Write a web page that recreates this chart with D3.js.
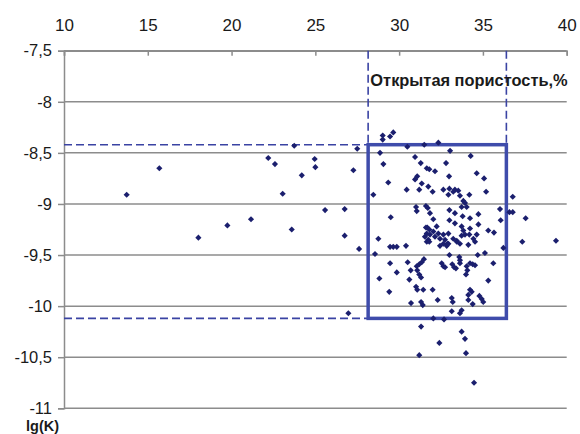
<!DOCTYPE html>
<html>
<head>
<meta charset="utf-8">
<script src="https://cdn.jsdelivr.net/npm/d3@7"></script>
<style>
  html, body { margin: 0; padding: 0; background: #fff; }
  svg text { font-family: "Liberation Sans", Arial, sans-serif; fill: #1a1a1a; }
</style>
</head>
<body>
<svg id="chart" width="580" height="434"></svg>
<script>
// Open porosity, % (x) against lg(K) (y)
const porosity = [
  13.74, 15.69, 18.02, 19.75, 21.16, 22.19, 22.59, 23.05, 23.59, 23.74,
  24.19, 24.96, 25.00, 25.58, 26.75, 26.75, 27.27, 27.50, 27.61, 26.97,
  29.02, 29.46, 29.65, 29.02, 28.86, 29.06, 29.35, 28.46, 29.50, 28.56,
  28.76, 29.46, 29.65, 29.86, 30.41, 29.46, 29.86, 28.82, 29.41, 30.51,
  30.69, 31.05, 31.20, 31.35, 31.48, 31.08, 31.20, 31.31, 30.61, 31.01,
  31.08, 31.44, 32.00, 32.30, 30.71, 31.31, 31.41,
  30.49, 31.50, 30.95, 31.29, 31.65, 31.80, 32.14, 32.34, 33.04, 32.80,
  32.98, 34.27, 34.63, 35.07, 35.19, 34.19, 30.45, 30.95, 31.08, 31.35,
  31.20, 31.74, 32.00, 32.64, 33.00, 33.23, 32.94, 33.33, 33.53, 33.63,
  31.01, 31.05, 31.60, 31.71, 31.84, 32.04, 31.68, 32.24, 33.83, 33.93,
  33.73, 34.03, 33.00, 33.33, 33.79, 34.73, 34.23, 33.00, 33.33, 33.73,
  33.83, 34.23, 34.73, 35.32, 35.66,
  36.02, 36.06, 36.78, 36.58, 36.78, 37.55, 37.35, 39.36, 36.22,
  31.60, 31.80, 31.65, 31.84, 31.54, 31.74, 32.04, 32.14, 32.34, 32.44,
  32.64, 32.74, 32.94, 32.88, 33.23, 33.44, 33.73, 33.93, 34.19, 34.43,
  34.63, 34.53,
  31.65, 31.80, 32.44, 32.64, 32.84, 32.94, 33.44, 33.63, 34.13, 33.00,
  33.59, 33.63, 34.69, 35.12, 35.62, 32.54, 32.64, 32.74, 33.17, 33.28,
  33.39, 33.63, 34.03, 34.07, 33.99, 34.23, 34.39, 34.53, 35.32, 34.23,
  34.33, 34.13, 34.79, 34.93, 35.02, 33.14, 33.20, 34.13, 34.39, 33.14,
  33.73, 33.63, 32.04, 32.68, 31.31, 33.73, 33.93, 32.40, 31.20, 33.99,
  34.47
];
const lgK = [
  -8.91, -8.65, -9.33, -9.21, -9.15, -8.55, -8.61, -8.90, -9.25, -8.43,
  -8.72, -8.56, -8.64, -9.06, -9.05, -9.31, -8.67, -8.46, -9.44, -10.07,
  -8.33, -8.34, -8.30, -8.37, -8.50, -8.61, -8.79, -8.91, -9.13, -9.49,
  -9.34, -9.42, -9.42, -9.42, -9.41, -9.58, -9.67, -9.73, -9.86, -9.57,
  -9.65, -9.61, -9.59, -9.57, -9.54, -9.65, -9.69, -9.72, -9.74, -9.81,
  -9.84, -9.84, -9.84, -9.94, -9.97, -9.96, -9.99,
  -8.44, -8.42, -8.54, -8.60, -8.65, -8.66, -8.68, -8.40, -8.48, -8.60,
  -8.73, -8.53, -8.70, -8.75, -8.88, -8.91, -8.86, -8.76, -8.73, -8.80,
  -8.86, -8.83, -8.88, -8.86, -8.85, -8.88, -8.91, -8.86, -8.87, -8.92,
  -9.03, -9.07, -9.02, -9.04, -9.09, -9.15, -9.23, -9.22, -8.97, -8.99,
  -9.03, -9.03, -9.06, -9.09, -9.12, -9.10, -9.14, -9.16, -9.19, -9.22,
  -9.26, -9.24, -9.20, -9.26, -9.28,
  -9.05, -9.16, -8.93, -9.08, -9.08, -9.14, -9.37, -9.36, -9.43,
  -9.23, -9.25, -9.29, -9.30, -9.32, -9.35, -9.27, -9.32, -9.29, -9.34,
  -9.30, -9.35, -9.29, -9.39, -9.34, -9.36, -9.31, -9.30, -9.30, -9.34,
  -9.30, -9.37,
  -9.37, -9.37, -9.41, -9.39, -9.41, -9.39, -9.37, -9.39, -9.40, -9.50,
  -9.52, -9.55, -9.50, -9.48, -9.58, -9.58, -9.61, -9.62, -9.59, -9.62,
  -9.63, -9.58, -9.61, -9.65, -9.69, -9.58, -9.59, -9.60, -9.75, -9.84,
  -9.86, -9.89, -9.90, -9.93, -9.96, -9.92, -9.96, -9.94, -9.98, -10.05,
  -10.04, -10.07, -10.12, -10.13, -10.20, -10.25, -10.32, -10.36, -10.48, -10.46,
  -10.75
];

// Highlighted window: porosity range and lg(K) range
const porosityWindow = [28.15, 36.4];
const lgKWindow = [-8.42, -10.12];

const xTicks = [10, 15, 20, 25, 30, 35, 40];
const yTicks = [-7.5, -8, -8.5, -9, -9.5, -10, -10.5, -11];
const xTitle = "Открытая пористость,%";
const yTitle = "lg(K)";

const svg = d3.select("#chart");
const plot = { left: 64, right: 566.7, top: 50.7, bottom: 408.3 };

const x = d3.scaleLinear().domain([10, 40]).range([plot.left, plot.right]);
const y = d3.scaleLinear().domain([-7.5, -11]).range([plot.top, plot.bottom]);

const ruFormat = d3.formatLocale({
  decimal: ",", thousands: " ", grouping: [3], currency: ["", ""], minus: "-"
}).format("");

const gridColor = "#8c8c8c";
const guideColor = "#3a43a3";

// horizontal gridlines
svg.append("g")
  .selectAll("line")
  .data(yTicks)
  .join("line")
  .attr("x1", plot.left).attr("x2", plot.right)
  .attr("y1", d => y(d)).attr("y2", d => y(d))
  .attr("stroke", gridColor)
  .attr("stroke-width", 1.5);

// y axis (ticks outward, to the left)
const yAxis = svg.append("g")
  .attr("transform", `translate(${plot.left},0)`)
  .call(d3.axisLeft(y).tickValues(yTicks).tickFormat(ruFormat).tickSize(6).tickPadding(6));
yAxis.select(".domain").attr("stroke", gridColor).attr("stroke-width", 1.5);
yAxis.selectAll(".tick line").attr("stroke", gridColor).attr("stroke-width", 1.5);
yAxis.selectAll("text").attr("font-size", 16.5).attr("fill", "#1a1a1a")
  .attr("font-family", "Liberation Sans, Arial, sans-serif");

// x axis on top (ticks pointing into the plot)
const xAxis = svg.append("g")
  .attr("transform", `translate(0,${plot.top})`)
  .call(d3.axisTop(x).tickValues(xTicks).tickFormat(d3.format("d")).tickSizeInner(-5).tickSizeOuter(-5).tickPadding(20));
xAxis.select(".domain").attr("stroke", gridColor).attr("stroke-width", 1.5);
xAxis.selectAll(".tick line").attr("stroke", gridColor).attr("stroke-width", 1.5);
xAxis.selectAll("text").attr("font-size", 17).attr("fill", "#1a1a1a")
  .attr("font-family", "Liberation Sans, Arial, sans-serif");

// dashed guides marking the window
const guides = svg.append("g")
  .attr("stroke", guideColor)
  .attr("stroke-width", 1.6)
  .attr("stroke-dasharray", "8,4")
  .attr("fill", "none");
porosityWindow.forEach(v => {
  guides.append("line")
    .attr("x1", x(v)).attr("x2", x(v))
    .attr("y1", y(-7.5)).attr("y2", y(lgKWindow[0]));
});
lgKWindow.forEach(v => {
  guides.append("line")
    .attr("x1", plot.left).attr("x2", x(porosityWindow[0]))
    .attr("y1", y(v)).attr("y2", y(v));
});

// solid window frame
svg.append("rect")
  .attr("x", x(porosityWindow[0]))
  .attr("y", y(lgKWindow[0]))
  .attr("width", x(porosityWindow[1]) - x(porosityWindow[0]))
  .attr("height", y(lgKWindow[1]) - y(lgKWindow[0]))
  .attr("fill", "none")
  .attr("stroke", "#3f4cab")
  .attr("stroke-width", 3.5);

// data points as diamonds
const diamond = d3.symbol().type(d3.symbolDiamond2).size(24);
svg.append("g")
  .selectAll("path")
  .data(d3.zip(porosity, lgK))
  .join("path")
  .attr("d", diamond)
  .attr("transform", d => `translate(${x(d[0])},${y(d[1])})`)
  .attr("fill", "#1b1f6e");

// titles
svg.append("text")
  .attr("x", plot.right + 1)
  .attr("y", 86)
  .attr("text-anchor", "end")
  .attr("font-size", 16.4)
  .attr("font-weight", "bold")
  .text(xTitle);

svg.append("text")
  .attr("x", 26)
  .attr("y", 430.8)
  .attr("font-size", 14.5)
  .attr("font-weight", "bold")
  .text(yTitle);
</script>
</body>
</html>
